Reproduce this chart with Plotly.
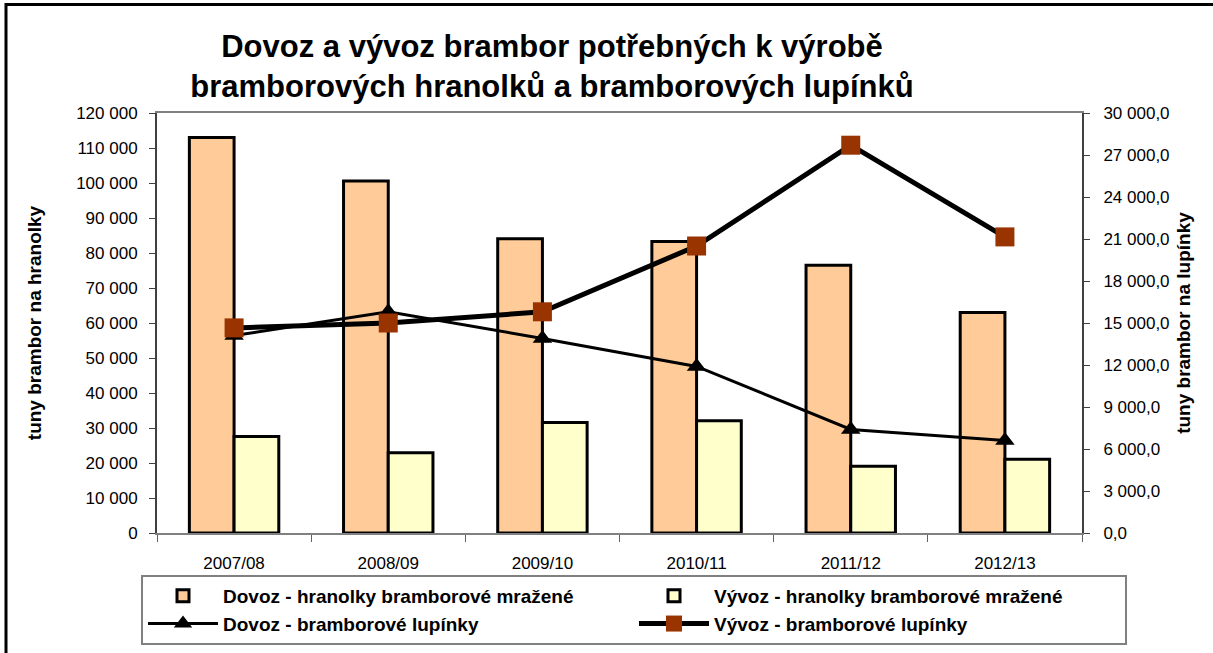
import plotly.graph_objects as go

categories = ["2007/08", "2008/09", "2009/10", "2010/11", "2011/12", "2012/13"]
dovoz_hranolky = [113000, 100600, 84100, 83300, 76500, 63000]
vyvoz_hranolky = [27600, 22900, 31600, 32100, 19100, 21100]
dovoz_lupinky = [14100, 15800, 13900, 11900, 7400, 6600]
vyvoz_lupinky = [14650, 15000, 15800, 20500, 27700, 21150]

FONT = "Arial, Liberation Sans, sans-serif"

fig = go.Figure()
fig.add_trace(go.Bar(
    x=categories, y=dovoz_hranolky, name="Dovoz - hranolky bramborové mražené",
    marker=dict(color="#FFCC99", line=dict(color="black", width=3)),
))
fig.add_trace(go.Bar(
    x=categories, y=vyvoz_hranolky, name="Vývoz - hranolky bramborové mražené",
    marker=dict(color="#FFFFCC", line=dict(color="black", width=3)),
))
fig.add_trace(go.Scatter(
    x=categories, y=dovoz_lupinky, name="Dovoz - bramborové lupínky", yaxis="y2",
    mode="lines+markers", line=dict(color="black", width=3),
    marker=dict(symbol="triangle-up", size=17, color="black"),
))
fig.add_trace(go.Scatter(
    x=categories, y=vyvoz_lupinky, name="Vývoz - bramborové lupínky", yaxis="y2",
    mode="lines+markers", line=dict(color="black", width=5),
    marker=dict(symbol="square", size=19, color="#993300"),
))

L, R, T, B = 157, 131, 113, 120
W, H = 1213, 653
pw, ph = W - L - R, H - T - B


def px2paper_x(p):
    return (p - L) / pw


def px2paper_y(p):
    return (H - B - p) / ph


fig.update_layout(
    width=W, height=H,
    margin=dict(l=L, r=R, t=T, b=B, autoexpand=False),
    paper_bgcolor="white", plot_bgcolor="white",
    separators=", ",
    font=dict(family=FONT, size=17, color="black"),
    barmode="group", bargap=0.42, bargroupgap=0,
    title=dict(
        text="<b>Dovoz a vývoz brambor potřebných k výrobě<br>bramborových hranolků a bramborových lupínků</b>",
        x=552 / W, xanchor="center", xref="container",
        y=1 - 57 / H, yanchor="top", yref="container",
        font=dict(family=FONT, size=31, color="black"),
    ),
    xaxis=dict(
        type="category", showline=True, linecolor="#808080", linewidth=2, mirror=True,
        ticks="outside", tickson="boundaries", ticklen=7, tickcolor="#606060",
        tickfont=dict(size=17), showgrid=False, ticklabelstandoff=14,
    ),
    yaxis=dict(
        range=[0, 120000], dtick=10000, tickformat=",d",
        showline=True, linecolor="#404040", linewidth=2,
        ticks="outside", ticklen=6, tickcolor="#404040",
        showgrid=False, zeroline=False, tickfont=dict(size=17), ticklabelstandoff=8,
        title=dict(text="<b>tuny brambor na hranolky</b>", font=dict(size=19), standoff=29),
    ),
    yaxis2=dict(
        range=[0, 30000], dtick=3000, tickformat=",.1f", overlaying="y", side="right",
        showline=True, linecolor="#404040", linewidth=2,
        ticks="outside", ticklen=6, tickcolor="#404040",
        showgrid=False, zeroline=False, tickfont=dict(size=17), ticklabelstandoff=10,
        title=dict(text="<b>tuny brambor na lupínky</b>", font=dict(size=19), standoff=8),
    ),
    legend=dict(
        orientation="h", x=px2paper_x(141), y=px2paper_y(575), xanchor="left", yanchor="top",
        bgcolor="white", bordercolor="#808080", borderwidth=2,
        font=dict(size=19, family=FONT, weight="bold"), entrywidth=406, entrywidthmode="pixels",
        itemwidth=70, tracegroupgap=0,
    ),
    shapes=[dict(
        type="rect", xref="paper", yref="paper",
        x0=px2paper_x(6), x1=px2paper_x(1225), y0=px2paper_y(665), y1=px2paper_y(4.5),
        line=dict(color="black", width=3), fillcolor="rgba(0,0,0,0)", layer="below",
    )],
)

fig.write_html("out.html", config={"displayModeBar": False},
               post_script="document.body.style.margin='0';")
